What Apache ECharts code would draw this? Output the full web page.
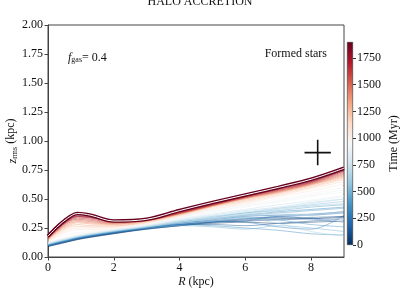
<!DOCTYPE html>
<html><head><meta charset="utf-8">
<script src="https://cdn.jsdelivr.net/npm/echarts@6/dist/echarts.min.js"></script>
<style>html,body{margin:0;padding:0;background:#fff}#c{width:400px;height:290px}</style>
</head><body><div id="c"></div>
<script>
// ---- data ----
const radii = [0, 0.3, 0.6, 0.9, 1.3, 2, 3, 4, 5, 6, 7, 8, 9];
const times = [0, 35, 70, 105, 140, 175, 210, 245, 280, 315, 350, 385, 420, 455, 490, 525, 560, 595,
  630, 665, 700, 735, 770, 805, 840, 875, 910, 945, 980,
  1050, 1120, 1190, 1260, 1330, 1400, 1470, 1540, 1610, 1680, 1750, 1820, 1900];
const zrms = [
  [0.09,0.11,0.13,0.15,0.17,0.20,0.24,0.27,0.29,0.30,0.29,0.30,0.31],
  [0.092,0.112,0.132,0.152,0.172,0.202,0.243,0.27,0.30,0.32,0.33,0.34,0.35],
  [0.095,0.115,0.135,0.155,0.175,0.205,0.245,0.28,0.30,0.31,0.32,0.33,0.34],
  [0.097,0.117,0.137,0.157,0.177,0.207,0.247,0.28,0.31,0.33,0.34,0.33,0.35],
  [0.10,0.12,0.14,0.16,0.18,0.21,0.25,0.28,0.28,0.27,0.29,0.31,0.33],
  [0.10,0.12,0.14,0.16,0.18,0.21,0.25,0.29,0.32,0.35,0.36,0.37,0.39],
  [0.10,0.12,0.14,0.16,0.18,0.21,0.24,0.27,0.30,0.33,0.35,0.36,0.38],
  [0.10,0.122,0.142,0.162,0.182,0.212,0.248,0.28,0.30,0.31,0.35,0.33,0.30],
  [0.10,0.125,0.145,0.165,0.185,0.215,0.25,0.29,0.31,0.30,0.26,0.24,0.36],
  [0.102,0.125,0.145,0.165,0.185,0.215,0.255,0.30,0.33,0.36,0.39,0.41,0.43],
  [0.105,0.125,0.145,0.165,0.185,0.215,0.255,0.28,0.27,0.25,0.23,0.20,0.19],
  [0.105,0.127,0.147,0.167,0.187,0.217,0.257,0.29,0.31,0.34,0.32,0.28,0.26],
  [0.105,0.13,0.15,0.17,0.19,0.22,0.26,0.30,0.33,0.36,0.38,0.40,0.42],
  [0.107,0.13,0.15,0.17,0.19,0.22,0.26,0.30,0.34,0.38,0.40,0.43,0.45],
  [0.11,0.13,0.15,0.17,0.19,0.22,0.25,0.27,0.26,0.24,0.27,0.25,0.22],
  [0.11,0.132,0.152,0.172,0.192,0.222,0.26,0.31,0.35,0.38,0.42,0.45,0.48],
  [0.11,0.135,0.155,0.175,0.195,0.225,0.26,0.30,0.34,0.37,0.41,0.44,0.46],
  [0.112,0.135,0.155,0.175,0.195,0.225,0.26,0.30,0.33,0.35,0.37,0.36,0.40],
  [0.115,0.135,0.155,0.175,0.195,0.225,0.26,0.29,0.31,0.33,0.29,0.22,0.18],
  [0.115,0.137,0.157,0.177,0.197,0.227,0.265,0.32,0.36,0.40,0.43,0.47,0.50],
  [0.115,0.14,0.16,0.18,0.20,0.23,0.27,0.31,0.35,0.39,0.42,0.46,0.50],
  [0.117,0.14,0.16,0.18,0.20,0.23,0.265,0.31,0.34,0.37,0.40,0.36,0.33],
  [0.12,0.14,0.16,0.18,0.20,0.23,0.265,0.30,0.33,0.36,0.38,0.35,0.30],
  [0.12,0.142,0.162,0.182,0.202,0.232,0.27,0.33,0.37,0.41,0.45,0.48,0.52],
  [0.12,0.145,0.165,0.185,0.205,0.235,0.27,0.32,0.37,0.41,0.45,0.49,0.53],
  [0.122,0.148,0.168,0.188,0.208,0.238,0.275,0.34,0.39,0.44,0.48,0.53,0.58],
  [0.125,0.15,0.17,0.19,0.21,0.24,0.28,0.33,0.38,0.43,0.47,0.52,0.56],
  [0.127,0.16,0.185,0.20,0.215,0.242,0.282,0.34,0.40,0.45,0.49,0.54,0.60],
  [0.13,0.17,0.20,0.21,0.22,0.245,0.285,0.34,0.40,0.45,0.50,0.55,0.60],
  [0.135,0.18,0.22,0.235,0.235,0.25,0.29,0.35,0.41,0.46,0.52,0.57,0.63],
  [0.14,0.19,0.235,0.25,0.25,0.26,0.295,0.355,0.42,0.47,0.53,0.59,0.65],
  [0.145,0.20,0.25,0.265,0.26,0.265,0.30,0.36,0.43,0.48,0.54,0.60,0.67],
  [0.15,0.21,0.26,0.28,0.27,0.27,0.305,0.365,0.435,0.49,0.55,0.61,0.68],
  [0.15,0.22,0.27,0.295,0.285,0.28,0.31,0.37,0.44,0.50,0.555,0.62,0.69],
  [0.155,0.225,0.28,0.305,0.295,0.285,0.31,0.37,0.44,0.505,0.56,0.625,0.70],
  [0.16,0.23,0.29,0.315,0.305,0.29,0.315,0.375,0.445,0.51,0.565,0.63,0.71],
  [0.16,0.235,0.30,0.325,0.315,0.295,0.315,0.375,0.445,0.51,0.57,0.635,0.72],
  [0.165,0.24,0.305,0.335,0.325,0.30,0.32,0.38,0.45,0.515,0.575,0.64,0.73],
  [0.17,0.245,0.31,0.345,0.335,0.305,0.32,0.38,0.45,0.52,0.58,0.645,0.74],
  [0.17,0.25,0.315,0.35,0.34,0.31,0.325,0.385,0.455,0.52,0.585,0.65,0.745],
  [0.175,0.255,0.32,0.355,0.345,0.31,0.325,0.39,0.46,0.525,0.59,0.655,0.75],
  [0.18,0.265,0.335,0.375,0.36,0.31,0.325,0.40,0.47,0.535,0.60,0.67,0.765]
];
const markerCenter = [8.2, 0.9];
const markerError = [0.4, 0.11];
const xTicks = [0, 2, 4, 6, 8];
const cbarTicks = [0, 250, 500, 750, 1000, 1250, 1500, 1750];
const tMax = 1900;

// RdBu_r colormap
const cmap = ['#053061','#2166ac','#4393c3','#92c5de','#d1e5f0','#f7f7f7','#fddbc7','#f4a582','#d6604d','#b2182b','#67001f'];
function hex(c){return [parseInt(c.slice(1,3),16),parseInt(c.slice(3,5),16),parseInt(c.slice(5,7),16)];}
function colorAt(f){
  f = Math.max(0, Math.min(1, f));
  const p = f * (cmap.length - 1), i = Math.min(Math.floor(p), cmap.length - 2), u = p - i;
  const a = hex(cmap[i]), b = hex(cmap[i+1]);
  return 'rgb(' + a.map((v,k)=>Math.round(v + (b[k]-v)*u)).join(',') + ')';
}

const serif = 'Liberation Serif';
const series = [];
times.forEach((t, j) => {
  const last = j === times.length - 1;
  const data = radii.map((r, k) => [r, zrms[j][k]]);
  if (last) {
    series.push({type:'line', data, smooth:0.35, symbol:'none', silent:true,
      lineStyle:{color:'#67001f', width:3.6}, z:5});
    series.push({type:'line', data, smooth:0.35, symbol:'none', silent:true,
      lineStyle:{color:'#ffffff', width:1}, z:6});
  } else {
    series.push({type:'line', data, smooth:0.35, symbol:'none', silent:true,
      lineStyle:{color:colorAt(t / tMax), width:0.85, opacity: t < 1000 ? 0.55 : 0.7}, z:2});
  }
});
// cross marker
series.push({type:'line', symbol:'none', silent:true, z:7,
  data:[[markerCenter[0]-markerError[0], markerCenter[1]],[markerCenter[0]+markerError[0], markerCenter[1]]],
  lineStyle:{color:'#111', width:1.6}});
series.push({type:'line', symbol:'none', silent:true, z:7,
  data:[[markerCenter[0], markerCenter[1]-markerError[1]],[markerCenter[0], markerCenter[1]+markerError[1]]],
  lineStyle:{color:'#111', width:1.6}});
// colorbar
series.push({type:'bar', xAxisIndex:1, yAxisIndex:1, data:[tMax], barWidth:'100%', silent:true,
  itemStyle:{borderColor:'#333', borderWidth:0.6,
    color:new echarts.graphic.LinearGradient(0,0,0,1, cmap.slice().reverse().map((c,i)=>({offset:i/(cmap.length-1), color:c})))}});

const chart = echarts.init(document.getElementById('c'), null, {renderer:'canvas'});
const lbl = {fontFamily:serif, fontSize:12, color:'#111', fontWeight:'normal'};
chart.setOption({
  animation:false,
  backgroundColor:'#fff',
  textStyle:{fontFamily:serif},
  title:[
    {text:'HALO ACCRETION', left:'center', top:-9, textStyle:{fontFamily:serif, fontSize:12, fontWeight:'normal', color:'#111'}},
    {text:'{i|f}{s|gas}{n|= 0.4}', left:63, top:43, textStyle:{fontWeight:'normal', rich:{
      i:{fontFamily:serif, fontSize:12, fontStyle:'italic', fontWeight:'normal', color:'#111', verticalAlign:'bottom', lineHeight:16},
      s:{fontFamily:serif, fontSize:8, fontWeight:'normal', color:'#111', verticalAlign:'bottom', lineHeight:12},
      n:{fontFamily:serif, fontSize:12, fontWeight:'normal', color:'#111', verticalAlign:'bottom', lineHeight:16}}}},
    {text:'Formed stars', right:68, top:43, textStyle:{fontFamily:serif, fontSize:12, fontWeight:'normal', color:'#111'}}
  ],
  grid:[
    {left:48, right:56, top:25, bottom:33, show:true, borderColor:'#444', borderWidth:1, backgroundColor:'transparent', outerBoundsMode:'none', containLabel:false},
    {left:347, width:6, top:42, height:203, outerBoundsMode:'none', containLabel:false}
  ],
  xAxis:[
    {type:'value', min:0, max:9, gridIndex:0,
      name:'{i|R} (kpc)', nameLocation:'middle', nameGap:19, nameMoveOverlap:false,
      nameTextStyle:{fontFamily:serif, fontSize:12, color:'#111', rich:{i:{fontFamily:serif, fontSize:12, fontStyle:'italic', color:'#111'}}},
      axisLine:{show:true, onZero:false, lineStyle:{color:'#444', width:1}},
      axisTick:{show:true, length:3.5, inside:false, customValues:xTicks, lineStyle:{color:'#444'}},
      axisLabel:Object.assign({customValues:xTicks, margin:5, formatter:v=>String(v)}, lbl),
      splitLine:{show:false}},
    {type:'category', data:[''], gridIndex:1, show:false}
  ],
  yAxis:[
    {type:'value', min:0, max:2, interval:0.25, gridIndex:0,
      name:'{i|z}{s|rms} (kpc)', nameLocation:'middle', nameGap:29, nameRotate:90, nameMoveOverlap:false,
      nameTextStyle:{fontFamily:serif, fontSize:12, color:'#111', rich:{
        i:{fontFamily:serif, fontSize:12, fontStyle:'italic', color:'#111', verticalAlign:'bottom', lineHeight:16},
        s:{fontFamily:serif, fontSize:8, color:'#111', verticalAlign:'bottom', lineHeight:12}}},
      axisLine:{show:true, onZero:false, lineStyle:{color:'#444', width:1}},
      axisTick:{show:true, length:3.5, inside:false, lineStyle:{color:'#444'}},
      axisLabel:Object.assign({margin:5, formatter:v=>v.toFixed(2)}, lbl),
      splitLine:{show:false}},
    {type:'value', min:0, max:tMax, gridIndex:1, position:'right',
      name:'Time (Myr)', nameLocation:'middle', nameGap:35, nameRotate:90, nameMoveOverlap:false,
      nameTextStyle:{fontFamily:serif, fontSize:12, color:'#111'},
      axisLine:{show:false},
      axisTick:{show:true, length:3, customValues:cbarTicks, lineStyle:{color:'#333'}},
      axisLabel:Object.assign({customValues:cbarTicks, margin:4, formatter:v=>String(v)}, lbl),
      splitLine:{show:false}}
  ],
  series
});
</script></body></html>
